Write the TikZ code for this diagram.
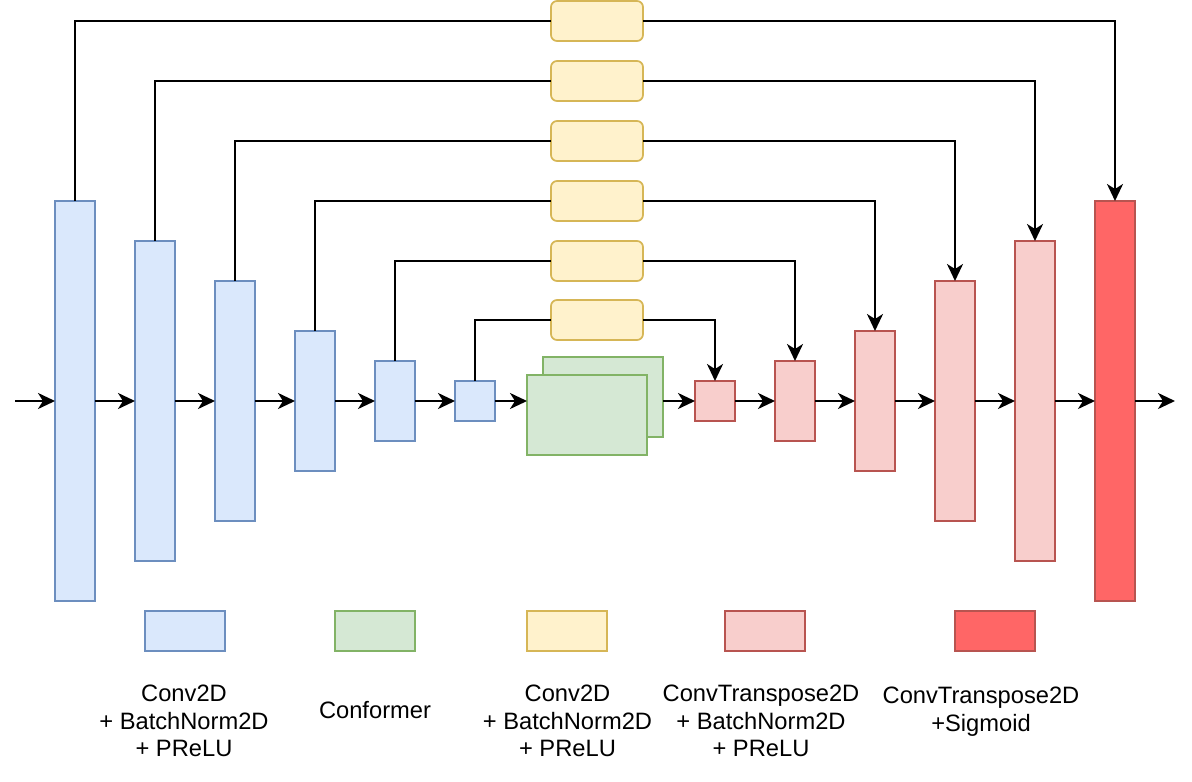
\documentclass[tikz,border=0pt]{standalone}
\usepackage{fontspec}
\setmainfont{Liberation Sans}
\usetikzlibrary{arrows.meta}

\definecolor{encfill}{HTML}{DAE8FC}
\definecolor{encline}{HTML}{6C8EBF}
\definecolor{cnffill}{HTML}{D5E8D4}
\definecolor{cnfline}{HTML}{82B366}
\definecolor{skipfill}{HTML}{FFF2CC}
\definecolor{skipline}{HTML}{D6B656}
\definecolor{decfill}{HTML}{F8CECC}
\definecolor{decline}{HTML}{B85450}
\definecolor{outfill}{HTML}{FF6666}

\begin{document}
\begin{tikzpicture}[x=1pt,y=-1pt,
  blk/.style={draw, line width=1.7pt, inner sep=0pt, outer sep=0pt},
  enc/.style={blk, fill=encfill, draw=encline, minimum width=40pt},
  dec/.style={blk, fill=decfill, draw=decline, minimum width=40pt},
  fin/.style={blk, fill=outfill, draw=decline, minimum width=40pt},
  cnf/.style={blk, fill=cnffill, draw=cnfline, minimum width=120pt, minimum height=80pt},
  skipbox/.style={blk, fill=skipfill, draw=skipline, rounded corners=6pt,
                  minimum width=92pt, minimum height=40pt},
  key/.style={blk, minimum width=80pt, minimum height=40pt},
  link/.style={line width=2.2pt},
  arr/.style={line width=2.2pt, -{Stealth[length=17pt,width=16pt,inset=5pt]}},
  lbl/.style={font=\fontsize{23.7}{27.7}\selectfont, align=center, inner sep=0pt}
]
\useasboundingbox (0,0) rectangle (1192,782);

% encoder
\node[enc, minimum height=400pt] (e1) at (75,401) {};
\node[enc, minimum height=320pt] (e2) at (155,401) {};
\node[enc, minimum height=240pt] (e3) at (235,401) {};
\node[enc, minimum height=140pt] (e4) at (315,401) {};
\node[enc, minimum height=80pt]  (e5) at (395,401) {};
\node[enc, minimum height=40pt]  (e6) at (475,401) {};

% conformer stack
\node[cnf] (cb) at (603,397) {};
\node[cnf] (cf) at (587,415) {};

% decoder
\node[dec, minimum height=40pt]  (d1) at (715,401) {};
\node[dec, minimum height=80pt]  (d2) at (795,401) {};
\node[dec, minimum height=140pt] (d3) at (875,401) {};
\node[dec, minimum height=240pt] (d4) at (955,401) {};
\node[dec, minimum height=320pt] (d5) at (1035,401) {};
\node[fin, minimum height=400pt] (d6) at (1115,401) {};

% skip-path blocks
\node[skipbox] (s1) at (597,21) {};
\node[skipbox] (s2) at (597,81) {};
\node[skipbox] (s3) at (597,141) {};
\node[skipbox] (s4) at (597,201) {};
\node[skipbox] (s5) at (597,261) {};
\node[skipbox] (s6) at (597,320) {};

\coordinate (in) at (15,401);
\coordinate (out) at (1175,401);

% main path
\draw[arr] (in) -- (e1);
\draw[arr] (e1) -- (e2);
\draw[arr] (e2) -- (e3);
\draw[arr] (e3) -- (e4);
\draw[arr] (e4) -- (e5);
\draw[arr] (e5) -- (e6);
\draw[arr] (e6) -- (e6 -| cf.west);
\draw[arr] (cb.east |- d1) -- (d1);
\draw[arr] (d1) -- (d2);
\draw[arr] (d2) -- (d3);
\draw[arr] (d3) -- (d4);
\draw[arr] (d4) -- (d5);
\draw[arr] (d5) -- (d6);
\draw[arr] (d6) -- (out);

% skip connections
\draw[link] (e1.north) |- (s1.west);
\draw[arr]  (s1.east) -| (d6.north);
\draw[link] (e2.north) |- (s2.west);
\draw[arr]  (s2.east) -| (d5.north);
\draw[link] (e3.north) |- (s3.west);
\draw[arr]  (s3.east) -| (d4.north);
\draw[link] (e4.north) |- (s4.west);
\draw[arr]  (s4.east) -| (d3.north);
\draw[link] (e5.north) |- (s5.west);
\draw[arr]  (s5.east) -| (d2.north);
\draw[link] (e6.north) |- (s6.west);
\draw[arr]  (s6.east) -| (d1.north);

% legend
\node[key, fill=encfill, draw=encline] (k1) at (185,631) {};
\node[key, fill=cnffill, draw=cnfline] (k2) at (375,631) {};
\node[key, fill=skipfill, draw=skipline] (k3) at (567,631) {};
\node[key, fill=decfill, draw=decline] (k4) at (765,631) {};
\node[key, fill=outfill, draw=decline] (k5) at (995,631) {};

\node[lbl] (t1) at (184,721) {Conv2D\\+ BatchNorm2D\\+ PReLU};
\node[lbl] (t2) at (375,710) {Conformer};
\node[lbl] (t3) at (567.5,721) {Conv2D\\+ BatchNorm2D\\+ PReLU};
\node[lbl] (t4) at (761,721) {ConvTranspose2D\\+ BatchNorm2D\\+ PReLU};
\node[lbl] (t5) at (981,712) {ConvTranspose2D\\+Sigmoid};
\end{tikzpicture}
\end{document}
